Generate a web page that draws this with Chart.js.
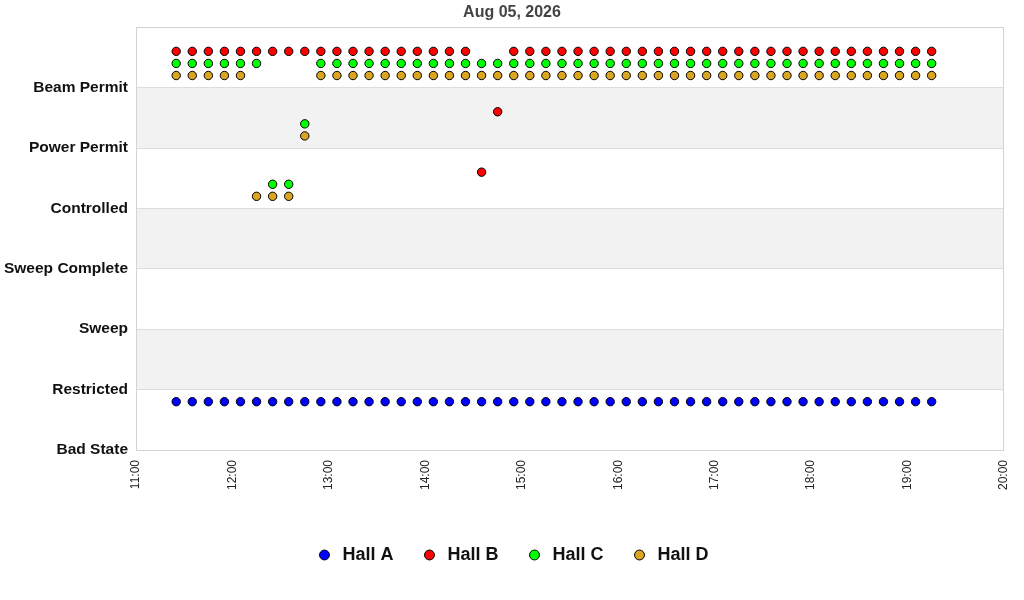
<!DOCTYPE html>
<html>
<head>
<meta charset="utf-8">
<script src="https://cdn.jsdelivr.net/npm/chart.js@4.4.1/dist/chart.umd.min.js"></script>
<style>
html,body{margin:0;padding:0;background:#fff;}
#wrap{width:1024px;height:600px;position:relative;}
</style>
</head>
<body>
<div id="wrap"><canvas id="c" width="1024" height="600"></canvas></div>
<script>
// ---- data ----
const titleText = 'Aug 05, 2026';
const stateLabels = ['Bad State','Restricted','Sweep','Sweep Complete','Controlled','Power Permit','Beam Permit'];
const xTickLabels = ['11:00','12:00','13:00','14:00','15:00','16:00','17:00','18:00','19:00','20:00'];
const times = [
 '11:25','11:35','11:45','11:55','12:05','12:15','12:25','12:35','12:45','12:55',
 '13:05','13:15','13:25','13:35','13:45','13:55','14:05','14:15','14:25','14:35',
 '14:45','14:55','15:05','15:15','15:25','15:35','15:45','15:55','16:05','16:15',
 '16:25','16:35','16:45','16:55','17:05','17:15','17:25','17:35','17:45','17:55',
 '18:05','18:15','18:25','18:35','18:45','18:55','19:05','19:15'
];
const hallNames = ['Hall A','Hall B','Hall C','Hall D'];
// state index (into stateLabels) per time
const hallA = [0,0,0,0,0,0,0,0,0,0, 0,0,0,0,0,0,0,0,0,0, 0,0,0,0,0,0,0,0,0,0, 0,0,0,0,0,0,0,0,0,0, 0,0,0,0,0,0,0,0];
const hallB = [6,6,6,6,6,6,6,6,6,6, 6,6,6,6,6,6,6,6,6,4, 5,6,6,6,6,6,6,6,6,6, 6,6,6,6,6,6,6,6,6,6, 6,6,6,6,6,6,6,6];
const hallC = [6,6,6,6,6,6,4,4,5,6, 6,6,6,6,6,6,6,6,6,6, 6,6,6,6,6,6,6,6,6,6, 6,6,6,6,6,6,6,6,6,6, 6,6,6,6,6,6,6,6];
const hallD = [6,6,6,6,6,4,4,4,5,6, 6,6,6,6,6,6,6,6,6,6, 6,6,6,6,6,6,6,6,6,6, 6,6,6,6,6,6,6,6,6,6, 6,6,6,6,6,6,6,6];

// ---- style ----
const hallOffsets = [0.8, 0.6, 0.4, 0.2];
const hallColors = ['#0000ff','#ff0000','#00ff00','#daa520'];
const FONT = 'Liberation Sans, Arial, sans-serif';

function toMin(t){const p=t.split(':');return (+p[0])*60+(+p[1]);}
function fmt(m){const h=Math.floor(m/60), mm=Math.round(m%60);return String(h).padStart(2,'0')+':'+String(mm).padStart(2,'0');}

const series = [hallA, hallB, hallC, hallD];
const datasets = series.map((s,k)=>({
  label: hallNames[k],
  data: s.map((v,i)=>({x: toMin(times[i]), y: v + hallOffsets[k]})),
  backgroundColor: hallColors[k],
  borderColor: '#000',
  borderWidth: 1,
  pointRadius: 4.2,
  pointHoverRadius: 4.2,
  pointStyle: 'circle',
  showLine: false,
  yAxisID: 'y'
}));

const xMin = toMin(xTickLabels[0]), xMax = toMin(xTickLabels[xTickLabels.length-1]);

const bgPlugin = {
  id: 'bands',
  beforeDraw(chart){
    const {ctx, chartArea:a, scales:{y}} = chart;
    ctx.save();
    ctx.fillStyle = '#f2f2f2';
    [[1,2],[3,4],[5,6]].forEach(([lo,hi])=>{
      const y1 = y.getPixelForValue(hi), y2 = y.getPixelForValue(lo);
      ctx.fillRect(a.left, y1, a.right-a.left, y2-y1);
    });
    ctx.restore();
  },
  beforeDatasetsDraw(chart){
    const {ctx, chartArea:a} = chart;
    ctx.save();
    ctx.strokeStyle = '#d4d4d4';
    ctx.lineWidth = 1;
    ctx.strokeRect(Math.round(a.left)+0.5, Math.round(a.top)+0.5, Math.round(a.right-a.left)-1, Math.round(a.bottom-a.top));
    ctx.restore();
  }
};

new Chart(document.getElementById('c'), {
  type: 'scatter',
  data: { datasets },
  plugins: [bgPlugin],
  options: {
    responsive: false,
    animation: false,
    layout: { padding: { left: 0, right: 0, top: 0, bottom: 26 } },
    plugins: {
      title: {
        display: true, text: titleText, color: '#444',
        font: { family: FONT, size: 16, weight: 'bold' },
        padding: { top: 3, bottom: 5 }
      },
      legend: {
        position: 'bottom',
        labels: {
          usePointStyle: true, boxWidth: 18, boxHeight: 7, padding: 27,
          color: '#111',
          font: { family: FONT, size: 18, weight: 'bold' }
        }
      },
      tooltip: { enabled: false }
    },
    scales: {
      x: {
        type: 'linear', min: xMin, max: xMax,
        afterBuildTicks(scale){ scale.ticks = xTickLabels.map(t=>({value: toMin(t)})); },
        ticks: {
          callback: v => fmt(v), minRotation: 90, maxRotation: 90, padding: 10,
          color: '#222', font: { family: FONT, size: 12 }
        },
        grid: { display: false, drawTicks: false },
        border: { display: false },
        afterFit(scale){ scale.height = 69; scale.paddingRight = 0; scale.paddingLeft = 0; }
      },
      y: {
        position: 'left',
        min: 0, max: 7,
        afterBuildTicks(scale){ scale.ticks = [0,1,2,3,4,5,6,7].map(v=>({value:v})); },
        ticks: {
          callback: v => stateLabels[v] || '', padding: 8,
          color: '#111', font: { family: FONT, size: 15.5, weight: 'bold' }
        },
        grid: { color: '#dddddd', drawTicks: false },
        border: { display: false },
        afterFit(scale){ scale.width = 136; }
      },
      yRight: {
        position: 'right',
        min: 0, max: 1,
        ticks: { display: false },
        grid: { display: false, drawTicks: false },
        border: { display: false },
        afterFit(scale){ scale.width = 20; }
      }
    }
  }
});
</script>
</body>
</html>
